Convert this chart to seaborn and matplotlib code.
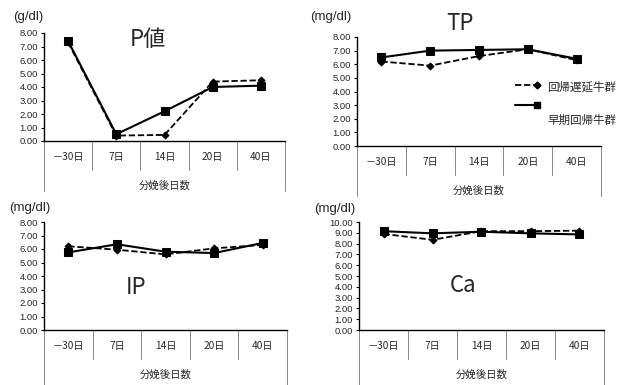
import matplotlib
matplotlib.use("Agg")
import matplotlib.pyplot as plt
import seaborn as sns
import pandas as pd
from matplotlib.lines import Line2D

sns.set_theme(style="white")
plt.rcParams['font.family'] = ['Noto Sans CJK JP', 'DejaVu Sans']

days = ["－30日", "7日", "14日", "20日", "40日"]
series_names = ["回帰遅延牛群", "早期回帰牛群"]
xlabel = "分娩後日数"

p_delay = [7.3, 0.4, 0.45, 4.4, 4.5]
p_early = [7.4, 0.5, 2.2, 4.0, 4.1]
tp_delay = [6.2, 5.9, 6.6, 7.1, 6.3]
tp_early = [6.5, 7.0, 7.05, 7.1, 6.4]
ip_delay = [6.2, 5.95, 5.6, 6.05, 6.3]
ip_early = [5.75, 6.35, 5.8, 5.7, 6.45]
ca_delay = [8.9, 8.35, 9.15, 9.15, 9.2]
ca_early = [9.15, 8.95, 9.1, 8.95, 8.85]

W, H = 626, 385
fig = plt.figure(figsize=(W / 100, H / 100), dpi=100)

def px_axes(left, top, right, bottom):
    return fig.add_axes([left / W, 1 - bottom / H, (right - left) / W, (bottom - top) / H])

panels = [
    dict(box=(44, 33, 285, 141), delay=p_delay, early=p_early, ymax=8, unit="(g/dl)", unit_xy=(13, 17),
         title="P値", title_xy=(148, 40)),
    dict(box=(357, 37, 601, 146), delay=tp_delay, early=tp_early, ymax=8, unit="(mg/dl)", unit_xy=(310, 17),
         title="TP", title_xy=(460, 24)),
    dict(box=(44, 222, 287, 330), delay=ip_delay, early=ip_early, ymax=8, unit="(mg/dl)", unit_xy=(9, 208),
         title="IP", title_xy=(136, 287)),
    dict(box=(359, 222, 604, 330), delay=ca_delay, early=ca_early, ymax=10, unit="(mg/dl)", unit_xy=(314, 209),
         title="Ca", title_xy=(463, 285)),
]

for p in panels:
    left, top, right, bottom = p["box"]
    ax = px_axes(left, top, right, bottom)
    df = pd.DataFrame({
        "day": days * 2,
        "value": p["delay"] + p["early"],
        "group": [series_names[0]] * 5 + [series_names[1]] * 5,
    })
    sns.lineplot(data=df[df.group == series_names[0]], x="day", y="value", ax=ax, color="black",
                 linestyle=(0, (3.5, 1.5)), lw=1.3, marker="D", markersize=3.5, markeredgecolor="black",
                 sort=False)
    sns.lineplot(data=df[df.group == series_names[1]], x="day", y="value", ax=ax, color="black",
                 linestyle="-", lw=1.5, marker="s", markersize=6, markeredgecolor="black", sort=False)
    ax.set_xlim(-0.5, 4.5)
    ax.set_ylim(0, p["ymax"])
    ax.set_yticks(range(0, p["ymax"] + 1))
    ax.set_yticklabels([f"{v:.2f}" for v in range(0, p["ymax"] + 1)], fontsize=6.8,
                       family=["Liberation Sans", "DejaVu Sans"])
    ax.set_xticks(range(5))
    ax.set_xticklabels(days, fontsize=7.3)
    ax.tick_params(axis="x", length=0, pad=8)
    ax.tick_params(axis="y", length=2.5, width=0.8, pad=2, direction="out", left=True, color="black")
    ax.set_xlabel("")
    ax.set_ylabel("")
    for s in ["top", "right"]:
        ax.spines[s].set_visible(False)
    for s in ["left", "bottom"]:
        ax.spines[s].set_color("black")
        ax.spines[s].set_linewidth(1.0)
    hpx = bottom - top
    inner = 29 / hpx
    outer = (H - bottom) / hpx if bottom > 300 else 50 / hpx
    trans = ax.get_xaxis_transform()
    for b in [-0.5, 0.5, 1.5, 2.5, 3.5, 4.5]:
        ax.plot([b, b], [0, -inner], transform=trans, color="#888888", lw=0.7, clip_on=False)
    for b in [-0.5, 4.5]:
        ax.plot([b, b], [-inner, -outer], transform=trans, color="#888888", lw=0.7, clip_on=False)
    ax.text(2, -(inner + 16 / hpx), xlabel, transform=trans, ha="center", va="center", fontsize=7.5)
    legend_obj = ax.get_legend()
    if legend_obj is not None:
        legend_obj.remove()
    fig.text(p["unit_xy"][0] / W, 1 - p["unit_xy"][1] / H, p["unit"], fontsize=9.5, ha="left", va="center",
             family=["Liberation Sans", "DejaVu Sans"])
    fig.text(p["title_xy"][0] / W, 1 - p["title_xy"][1] / H, p["title"], fontsize=16, ha="center", va="center")

# legend
fig.add_artist(Line2D([515 / W, 537 / W], [1 - 85 / H, 1 - 85 / H], color="black", lw=1.3,
                      linestyle=(0, (3.5, 1.5)), marker="D", markersize=3.5, markevery=[1],
                      transform=fig.transFigure))
fig.add_artist(Line2D([515 / W, 537 / W], [1 - 105 / H, 1 - 105 / H], color="black", lw=1.5,
                      marker="s", markersize=5, markevery=[1], transform=fig.transFigure))
fig.text(547 / W, 1 - 87 / H, series_names[0], fontsize=8.3, ha="left", va="center")
fig.text(547 / W, 1 - 120 / H, series_names[1], fontsize=8.3, ha="left", va="center")

fig.savefig("out.png", dpi=100)
